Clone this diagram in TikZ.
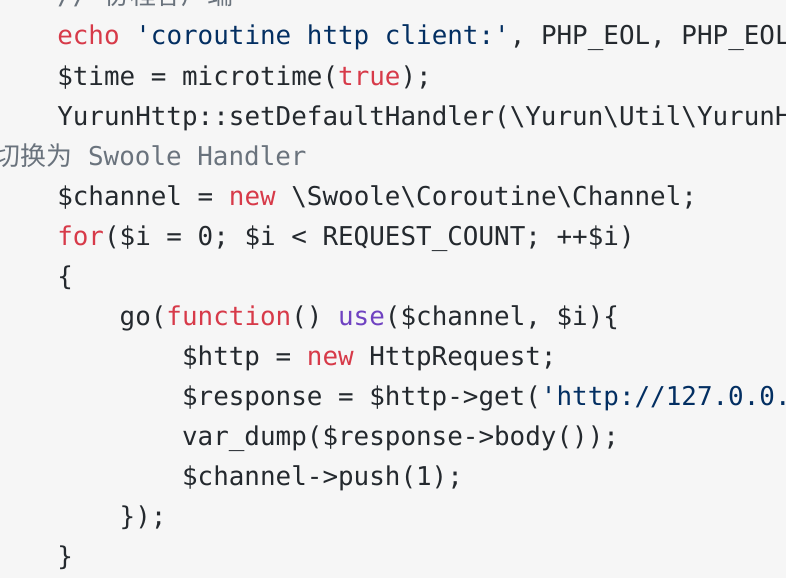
\documentclass[tikz,border=0pt]{standalone}
\usepackage{fontspec}
\setmonofont{DejaVu Sans Mono}
\newfontfamily\cjk{Noto Sans CJK SC}
\definecolor{codetext}{HTML}{24292E}
\definecolor{codekey}{HTML}{D73A49}
\definecolor{codestr}{HTML}{032F62}
\definecolor{codeuse}{HTML}{6F42C1}
\definecolor{codecmt}{HTML}{6A737D}
\definecolor{codebg}{HTML}{F6F6F6}
\newcommand{\kwd}[1]{\textcolor{codekey}{#1}}
\newcommand{\strg}[1]{\textcolor{codestr}{#1}}
\newcommand{\purp}[1]{\textcolor{codeuse}{#1}}
\newcommand{\bs}{\textbackslash}
\tikzset{codeline/.style={anchor=base west,inner sep=0pt,text=codetext,font=\ttfamily\fontsize{19.44}{24}\selectfont}}
\begin{document}
\begin{tikzpicture}[x=0.75pt,y=-0.75pt]
\fill[codebg] (0,0) rectangle (786,578);
\useasboundingbox (0,0) rectangle (786,578);
\clip (0,0) rectangle (786,578);
% comment lines
\node[codeline,text=codecmt] (l0) at (57,5) {// {\cjk 协程客户端}};
\node[codeline] (l1) at (57,45) {\kwd{echo} \strg{'coroutine http client:'}, PHP\_EOL, PHP\_EOL};
\node[codeline] (l2) at (57,85) {\$time = microtime(\kwd{true});};
\node[codeline] (l3) at (57,125) {YurunHttp::setDefaultHandler(\bs Yurun\bs Util\bs YurunH};
\node[codeline,text=codecmt] (l4) at (-5.5,165) {{\cjk 切换为} Swoole Handler};
\node[codeline] (l5) at (57,205) {\$channel = \kwd{new} \bs Swoole\bs Coroutine\bs Channel;};
\node[codeline] (l6) at (57,245) {\kwd{for}(\$i = 0; \$i < REQUEST\_COUNT; ++\$i)};
\node[codeline] (l7) at (57,285) {\{};
% go block
\node[codeline] (l8) at (119.4,325) {go(\kwd{function}() \purp{use}(\$channel, \$i)\{};
\node[codeline] (l9) at (181.8,365) {\$http = \kwd{new} HttpRequest;};
\node[codeline] (l10) at (181.8,405) {\$response = \$http->get(\strg{'http://127.0.0.}};
\node[codeline] (l11) at (181.8,445) {var\_dump(\$response->body());};
\node[codeline] (l12) at (181.8,485) {\$channel->push(1);};
\node[codeline] (l13) at (119.4,525) {\});};
\node[codeline] (l14) at (57,565) {\}};
\end{tikzpicture}
\end{document}
